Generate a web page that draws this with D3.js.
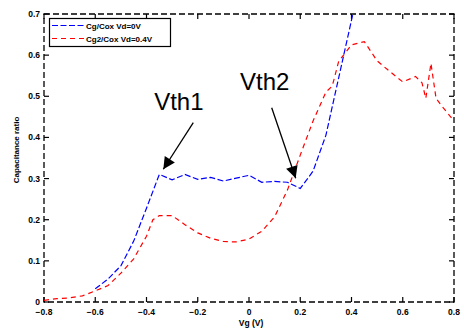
<!DOCTYPE html>
<html><head><meta charset="utf-8">
<script src="https://cdn.jsdelivr.net/npm/d3@7"></script>
<style>body{margin:0;background:#fff}svg{display:block;font-family:"Liberation Sans",Arial,sans-serif}</style>
</head><body><svg id="c" width="464" height="332"></svg>
<script>
const blueX = [-0.6,-0.55,-0.5,-0.45,-0.4,-0.35,-0.3,-0.25,-0.2,-0.15,-0.1,-0.05,0,0.05,0.1,0.15,0.2,0.25,0.3,0.35,0.4,0.45];
const blueY = [0.032,0.056,0.088,0.148,0.228,0.310,0.297,0.310,0.298,0.303,0.294,0.301,0.308,0.291,0.293,0.291,0.276,0.318,0.405,0.545,0.685,0.83];
const redX = [-0.8,-0.75,-0.7,-0.65,-0.6,-0.55,-0.5,-0.45,-0.4,-0.375,-0.35,-0.3,-0.25,-0.2,-0.15,-0.1,-0.05,0,0.05,0.1,0.15,0.2,0.25,0.3,0.325,0.35,0.4,0.45,0.5,0.55,0.6,0.65,0.675,0.69,0.71,0.73,0.75,0.8];
const redY = [0.004,0.008,0.010,0.015,0.027,0.040,0.070,0.105,0.160,0.200,0.210,0.210,0.188,0.168,0.155,0.147,0.146,0.153,0.172,0.207,0.272,0.357,0.44,0.51,0.525,0.585,0.625,0.633,0.586,0.56,0.535,0.548,0.533,0.495,0.58,0.495,0.478,0.44];
const seriesNames = ["Cg/Cox Vd=0V","Cg2/Cox Vd=0.4V"];
const xTicks = [-0.8,-0.6,-0.4,-0.2,0,0.2,0.4,0.6,0.8];
const yTicks = [0,0.1,0.2,0.3,0.4,0.5,0.6,0.7];
const annotations = [
  {label:"Vth1", tx:-0.37, ty:0.467, x1:-0.2174, y1:0.4358, x2:-0.3344, y2:0.3226},
  {label:"Vth2", tx:-0.035, ty:0.515, x1:0.0886, y1:0.4723, x2:0.1822, y2:0.3007}
];

const svg = d3.select("#c");
const x = d3.scaleLinear().domain([-0.8,0.8]).range([44,454]);
const y = d3.scaleLinear().domain([0,0.7]).range([302,14]);

svg.append("defs").append("clipPath").attr("id","clip")
  .append("rect").attr("x",44).attr("y",14).attr("width",410).attr("height",288);

const fmt = d => d===0 ? "0" : d3.format(".1f")(d);
const tickLen = 5;
const g = svg.append("g");
// ticks
g.selectAll(".xb").data(xTicks).join("line").attr("x1",d=>x(d)).attr("x2",d=>x(d)).attr("y1",302).attr("y2",302-tickLen).attr("stroke","#000").attr("stroke-width",1.2);
g.selectAll(".xt").data(xTicks).join("line").attr("x1",d=>x(d)).attr("x2",d=>x(d)).attr("y1",14).attr("y2",14+tickLen).attr("stroke","#000").attr("stroke-width",1.2);
g.selectAll(".yl").data(yTicks).join("line").attr("y1",d=>y(d)).attr("y2",d=>y(d)).attr("x1",44).attr("x2",44+tickLen).attr("stroke","#000").attr("stroke-width",1.2);
g.selectAll(".yr").data(yTicks).join("line").attr("y1",d=>y(d)).attr("y2",d=>y(d)).attr("x1",454).attr("x2",454-tickLen).attr("stroke","#000").attr("stroke-width",1.2);
// labels
g.selectAll(".xlab").data(xTicks).join("text").attr("x",d=>x(d)).attr("y",315).attr("text-anchor","middle")
  .attr("font-size",8.5).attr("font-weight","bold").text(fmt);
g.selectAll(".ylab").data(yTicks).join("text").attr("x",40).attr("y",d=>y(d)+3).attr("text-anchor","end")
  .attr("font-size",8.5).attr("font-weight","bold").text(fmt);
svg.append("text").attr("x",251).attr("y",326).attr("text-anchor","middle").attr("font-size",8.5).attr("font-weight","bold").text("Vg (V)");
svg.append("text").attr("transform","translate(19,150) rotate(-90)").attr("text-anchor","middle").attr("font-size",8).attr("font-weight","bold").text("Capacitance ratio");

// box
svg.append("rect").attr("x",44).attr("y",14).attr("width",410).attr("height",288).attr("fill","none")
  .attr("stroke","#000").attr("stroke-width",1.3).attr("stroke-dasharray","6,3");

// series
const line = d3.line().x(d=>x(d[0])).y(d=>y(d[1]));
const plot = svg.append("g").attr("clip-path","url(#clip)");
plot.append("path").datum(blueX.map((v,i)=>[v,blueY[i]])).attr("d",line).attr("fill","none").attr("stroke","#0000ff").attr("stroke-width",1.2).attr("stroke-dasharray","6,2.5");
plot.append("path").datum(redX.map((v,i)=>[v,redY[i]])).attr("d",line).attr("fill","none").attr("stroke","#ff0000").attr("stroke-width",1.2).attr("stroke-dasharray","5,4");

// legend
const lg = svg.append("g");
lg.append("rect").attr("x",49.5).attr("y",18.5).attr("width",121).attr("height",28).attr("fill","#fff").attr("stroke","#000").attr("stroke-width",1.2);
const cols = ["#0000ff","#ff0000"], dashes = ["6,2.5","5,4"];
seriesNames.forEach((n,i)=>{
  const yy = 25.5 + i*13;
  lg.append("line").attr("x1",52).attr("x2",84).attr("y1",yy).attr("y2",yy).attr("stroke",cols[i]).attr("stroke-width",1.2).attr("stroke-dasharray",dashes[i]);
  lg.append("text").attr("x",86).attr("y",yy+3).attr("font-size",8).attr("font-weight","bold").text(n);
});

// annotations
const defs = svg.select("defs");
defs.append("marker").attr("id","ah").attr("viewBox","0 0 10 10").attr("refX",10).attr("refY",5)
  .attr("markerWidth",16).attr("markerHeight",12).attr("markerUnits","userSpaceOnUse").attr("orient","auto")
  .append("path").attr("d","M0,0L10,5L0,10Z").attr("fill","#000");
annotations.forEach(a=>{
  svg.append("text").attr("x",x(a.tx)).attr("y",y(a.ty)).attr("font-size",24).attr("fill","#000").text(a.label);
  svg.append("line").attr("x1",x(a.x1)).attr("y1",y(a.y1)).attr("x2",x(a.x2)).attr("y2",y(a.y2))
    .attr("stroke","#000").attr("stroke-width",1.3).attr("marker-end","url(#ah)");
});
</script></body></html>
